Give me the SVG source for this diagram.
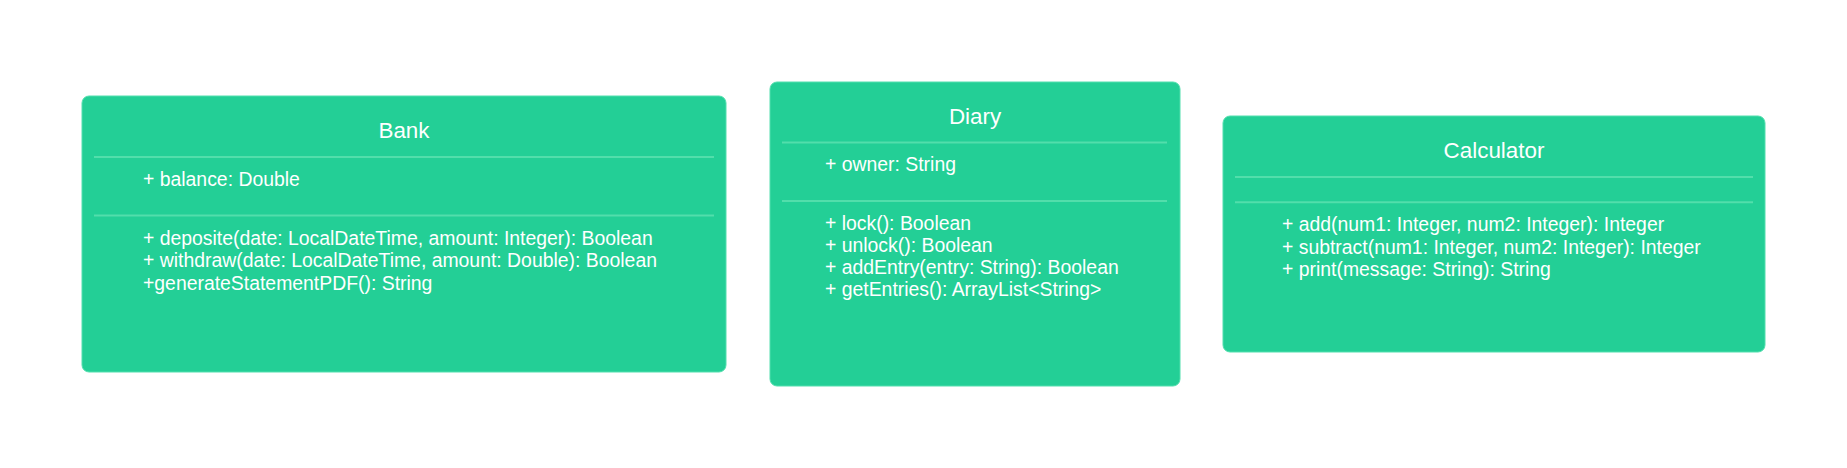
<svg xmlns="http://www.w3.org/2000/svg" width="1847" height="468" viewBox="0 0 1847 468">
<style>
.box{fill:#23cf96;stroke:#52dfae;stroke-width:1}
.sep{stroke:#52deab;stroke-width:2}
.title{font-family:"Liberation Sans",Arial,sans-serif;font-size:22.4px;fill:#ffffff;text-anchor:middle}
.mem{font-family:"Liberation Sans",Arial,sans-serif;font-size:19.4px;fill:#ffffff}
</style>
<rect width="1847" height="468" fill="#ffffff"/>
<g id="connectors"></g>
<g id="bank">
<rect class="box" x="82" y="96" width="644" height="276" rx="7"/>
<text class="title" x="404" y="138">Bank</text>
<line class="sep" x1="94" y1="157" x2="714" y2="157"/>
<text class="mem" x="143" y="186">+ balance: Double</text>
<line class="sep" x1="94" y1="215.5" x2="714" y2="215.5"/>
<text class="mem" x="143" y="245">+ deposite(date: LocalDateTime, amount: Integer): Boolean</text>
<text class="mem" x="143" y="267.3">+ withdraw(date: LocalDateTime, amount: Double): Boolean</text>
<text class="mem" x="143" y="289.6">+generateStatementPDF(): String</text>
</g>
<g id="diary">
<rect class="box" x="770" y="82" width="410" height="304" rx="7"/>
<text class="title" x="975" y="123.5">Diary</text>
<line class="sep" x1="782" y1="142.5" x2="1167" y2="142.5"/>
<text class="mem" x="825" y="171">+ owner: String</text>
<line class="sep" x1="782" y1="201" x2="1167" y2="201"/>
<text class="mem" x="825" y="229.5">+ lock(): Boolean</text>
<text class="mem" x="825" y="251.8">+ unlock(): Boolean</text>
<text class="mem" x="825" y="274.1">+ addEntry(entry: String): Boolean</text>
<text class="mem" x="825" y="296.4">+ getEntries(): ArrayList&lt;String&gt;</text>
</g>
<g id="calculator">
<rect class="box" x="1223" y="116" width="542" height="236" rx="7"/>
<text class="title" x="1494" y="157.7">Calculator</text>
<line class="sep" x1="1235" y1="177" x2="1753" y2="177"/>
<line class="sep" x1="1235" y1="202.3" x2="1753" y2="202.3"/>
<text class="mem" x="1282" y="231.2">+ add(num1: Integer, num2: Integer): Integer</text>
<text class="mem" x="1282" y="253.5">+ subtract(num1: Integer, num2: Integer): Integer</text>
<text class="mem" x="1282" y="275.8">+ print(message: String): String</text>
</g>
</svg>
